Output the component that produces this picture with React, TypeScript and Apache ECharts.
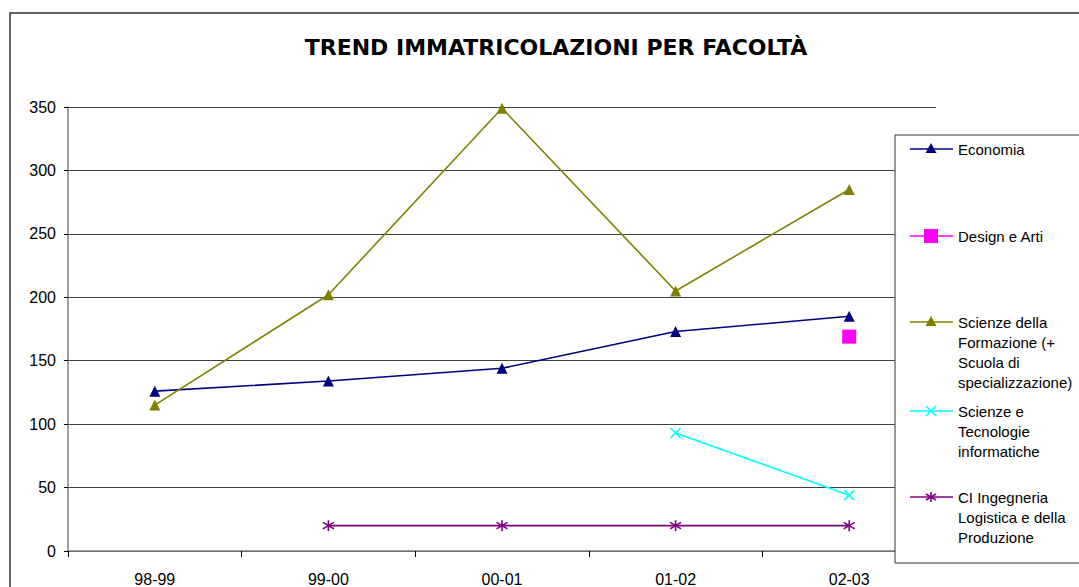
import React, { useEffect, useRef } from "react";
import * as echarts from "echarts";

const categories = ["98-99", "99-00", "00-01", "01-02", "02-03"];
const economia = [126, 134, 144, 173, 185];
const designArti = [null, null, null, null, 169];
const scienzeFormazione = [115, 202, 349, 205, 285];
const scienzeTecnologie = [null, null, null, 93, 44];
const ciIngegneria = [null, 20, 20, 20, 20];

const seriesNames = [
  "Economia",
  "Design e Arti",
  "Scienze della\nFormazione (+\nScuola di\nspecializzazione)",
  "Scienze e\nTecnologie\ninformatiche",
  "CI Ingegneria\nLogistica e della\nProduzione",
];
const seriesColors = ["#000080", "#FF00FF", "#808000", "#00FFFF", "#800080"];
const seriesData = [economia, designArti, scienzeFormazione, scienzeTecnologie, ciIngegneria];

const FONT = "Liberation Sans";
const crossPath = "path://M0,0L10,10M10,0L0,10";
const starPath = "path://M5,0L5,10M0,2L10,8M10,2L0,8";

export default function App() {
  const ref = useRef<HTMLDivElement>(null);
  useEffect(() => {
    if (!ref.current) return;
    const chart = echarts.init(ref.current, null, { renderer: "svg" });

    const symbols: any[] = ["triangle", "rect", "triangle", crossPath, starPath];
    const sizes = [11, 14, 11, 10, 11];

    const series = seriesData.map((d, i) => {
      const isPath = typeof symbols[i] === "string" && symbols[i].startsWith("path://");
      return {
        name: seriesNames[i],
        type: "line",
        data: d,
        symbol: symbols[i],
        symbolSize: sizes[i],
        showSymbol: true,
        showAllSymbol: true,
        connectNulls: false,
        lineStyle: { color: seriesColors[i], width: 1.6 },
        itemStyle: isPath
          ? { color: "transparent", borderColor: seriesColors[i], borderWidth: 1.6 }
          : { color: seriesColors[i], borderWidth: 0 },
        z: 3,
      };
    });

    const rowY = [149, 236, 322, 411, 497];
    const legendEls: any[] = [
      {
        type: "rect",
        shape: { x: 895, y: 135, width: 300, height: 428 },
        style: { fill: "#fff", stroke: "#333", lineWidth: 1 },
        z: 10,
      },
    ];
    rowY.forEach((y, i) => {
      const c = seriesColors[i];
      legendEls.push({
        type: "line",
        shape: { x1: 910, y1: y, x2: 953, y2: y },
        style: { stroke: c, lineWidth: 1.6 },
        z: 11,
      });
      const cx = 931;
      if (i === 0 || i === 2) {
        legendEls.push({
          type: "polygon",
          shape: { points: [[cx, y - 6], [cx - 5.5, y + 4], [cx + 5.5, y + 4]] },
          style: { fill: c },
          z: 12,
        });
      } else if (i === 1) {
        legendEls.push({
          type: "rect",
          shape: { x: cx - 7, y: y - 7, width: 14, height: 14 },
          style: { fill: c },
          z: 12,
        });
      } else if (i === 3) {
        legendEls.push(
          { type: "line", shape: { x1: cx - 5, y1: y - 5, x2: cx + 5, y2: y + 5 }, style: { stroke: c, lineWidth: 1.6 }, z: 12 },
          { type: "line", shape: { x1: cx + 5, y1: y - 5, x2: cx - 5, y2: y + 5 }, style: { stroke: c, lineWidth: 1.6 }, z: 12 }
        );
      } else {
        legendEls.push(
          { type: "line", shape: { x1: cx, y1: y - 5, x2: cx, y2: y + 5 }, style: { stroke: c, lineWidth: 1.6 }, z: 12 },
          { type: "line", shape: { x1: cx - 5, y1: y - 3, x2: cx + 5, y2: y + 3 }, style: { stroke: c, lineWidth: 1.6 }, z: 12 },
          { type: "line", shape: { x1: cx + 5, y1: y - 3, x2: cx - 5, y2: y + 3 }, style: { stroke: c, lineWidth: 1.6 }, z: 12 }
        );
      }
      legendEls.push({
        type: "text",
        x: 958,
        y: y - 10,
        style: {
          text: seriesNames[i],
          font: `15px '${FONT}'`,
          fill: "#000",
          lineHeight: 20,
          verticalAlign: "top",
        },
        z: 12,
      });
    });

    chart.setOption({
      animation: false,
      backgroundColor: "#fff",
      title: {
        text: "TREND IMMATRICOLAZIONI PER FACOLTÀ",
        left: 551,
        top: 31,
        textAlign: "center",
        textStyle: { fontFamily: "DejaVu Sans", fontWeight: "bold", fontSize: 22, color: "#000" },
      },
      grid: { left: 68, right: 143, top: 107, bottom: 34 },
      xAxis: {
        type: "category",
        data: categories,
        boundaryGap: true,
        axisLine: { lineStyle: { color: "#808080", width: 1.5 } },
        axisTick: { show: true, inside: false, length: 6, lineStyle: { color: "#000" } },
        axisLabel: { fontFamily: FONT, fontSize: 16, color: "#000", margin: 20 },
      },
      yAxis: {
        type: "value",
        min: 0,
        max: 350,
        interval: 50,
        axisLine: { show: true, lineStyle: { color: "#808080", width: 1.5 } },
        axisTick: { show: true, length: 4, lineStyle: { color: "#000" } },
        axisLabel: { fontFamily: FONT, fontSize: 16, color: "#000", margin: 12 },
        splitLine: { lineStyle: { color: "#404040", width: 1 } },
      },
      series,
      graphic: [
        {
          type: "rect",
          shape: { x: 10, y: 13, width: 1200, height: 700 },
          style: { fill: "none", stroke: "#333", lineWidth: 1.5 },
          z: 0,
          silent: true,
        },
        ...legendEls,
      ],
    });
    return () => chart.dispose();
  }, []);
  return <div ref={ref} style={{ width: 1079, height: 587, position: "absolute", left: 0, top: 0 }} />;
}
